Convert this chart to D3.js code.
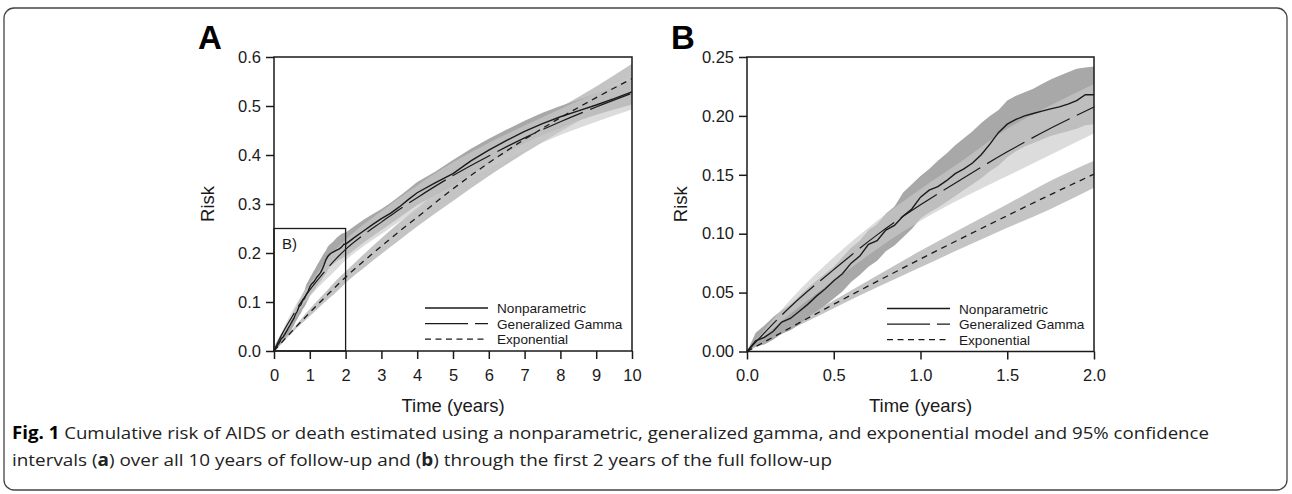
<!DOCTYPE html>
<html>
<head>
<meta charset="utf-8">
<script src="https://cdn.jsdelivr.net/npm/d3@7"></script>
<style>
body { margin: 0; background: #fff; }
svg { display: block; font-family: "Liberation Sans", Arial, sans-serif; }
</style>
</head>
<body>
<svg id="chart" width="1292" height="494"></svg>
<script>
// nonparametric estimate, fine time grid (years)
let npTime = [0, 0.05, 0.1, 0.15, 0.2, 0.25, 0.3, 0.35, 0.4, 0.45, 0.5, 0.55, 0.6, 0.65, 0.7, 0.75, 0.8, 0.85, 0.9, 0.95,
  1.0, 1.05, 1.1, 1.15, 1.2, 1.25, 1.3, 1.35, 1.4, 1.45, 1.5, 1.55, 1.6, 1.65, 1.7, 1.75, 1.8, 1.85, 1.9, 1.95,
  2.0, 2.25, 2.5, 2.75, 3.0, 3.25, 3.5, 3.75, 4.0, 4.5, 5.0, 5.5, 6.0, 6.5, 7.0, 7.5, 8.0, 8.5, 9.0, 9.5, 10.0]
let npRisk = [0, 0.009, 0.012, 0.017, 0.025, 0.028, 0.034, 0.040, 0.047, 0.053, 0.060, 0.066, 0.075, 0.081, 0.091, 0.094, 0.103, 0.107, 0.115, 0.121,
  0.131, 0.137, 0.140, 0.145, 0.151, 0.155, 0.160, 0.167, 0.176, 0.186, 0.193, 0.197, 0.200, 0.202, 0.204, 0.206, 0.2076, 0.210, 0.213, 0.218,
  0.218, 0.232, 0.245, 0.258, 0.270, 0.281, 0.294, 0.309, 0.323, 0.343, 0.362, 0.388, 0.410, 0.430, 0.448, 0.464, 0.478, 0.490, 0.502, 0.515, 0.529]
let npLow = [0, 0.004, 0.006, 0.010, 0.015, 0.018, 0.023, 0.029, 0.034, 0.039, 0.045, 0.051, 0.059, 0.065, 0.072, 0.077, 0.085, 0.090, 0.097, 0.104,
  0.113, 0.118, 0.122, 0.127, 0.132, 0.137, 0.142, 0.147, 0.153, 0.158, 0.165, 0.170, 0.174, 0.177, 0.180, 0.183, 0.185, 0.187, 0.189, 0.192,
  0.193, 0.207, 0.221, 0.234, 0.247, 0.259, 0.272, 0.285, 0.298, 0.318, 0.336, 0.360, 0.383, 0.405, 0.424, 0.441, 0.455, 0.470, 0.482, 0.493, 0.503]
let npHigh = [0, 0.016, 0.022, 0.029, 0.035, 0.040, 0.047, 0.054, 0.060, 0.066, 0.072, 0.080, 0.088, 0.094, 0.103, 0.108, 0.117, 0.123, 0.135, 0.142,
  0.149, 0.155, 0.162, 0.168, 0.175, 0.181, 0.187, 0.194, 0.200, 0.205, 0.213, 0.217, 0.220, 0.223, 0.227, 0.231, 0.234, 0.237, 0.240, 0.241,
  0.242, 0.255, 0.268, 0.279, 0.290, 0.302, 0.316, 0.330, 0.345, 0.366, 0.390, 0.413, 0.433, 0.452, 0.470, 0.486, 0.500, 0.513, 0.526, 0.540, 0.553]

// parametric models, coarse time grid
let modelTime = [0, 0.25, 0.5, 0.75, 1, 1.25, 1.5, 1.75, 2, 2.5, 3, 3.5, 4, 5, 6, 7, 8, 9, 10]
let gammaRisk = [0, 0.038, 0.0695, 0.099, 0.1245, 0.1475, 0.1695, 0.1895, 0.2075, 0.237, 0.263, 0.289, 0.313, 0.358, 0.398, 0.435, 0.468, 0.498, 0.526]
let gammaLow = [0, 0.032, 0.060, 0.087, 0.111, 0.131, 0.149, 0.167, 0.185, 0.214, 0.239, 0.264, 0.287, 0.333, 0.372, 0.409, 0.441, 0.468, 0.493]
let gammaHigh = [0, 0.044, 0.080, 0.111, 0.138, 0.163, 0.189, 0.209, 0.227, 0.258, 0.285, 0.312, 0.338, 0.385, 0.425, 0.460, 0.494, 0.527, 0.562]
let expRisk = [0, 0.0202, 0.0401, 0.0595, 0.0785, 0.0971, 0.1153, 0.1332, 0.1506, 0.183, 0.214, 0.244, 0.273, 0.331, 0.384, 0.432, 0.476, 0.517, 0.556]
let expLow = [0, 0.0186, 0.0368, 0.0545, 0.0715, 0.0885, 0.105, 0.121, 0.139, 0.169, 0.198, 0.226, 0.254, 0.306, 0.357, 0.404, 0.448, 0.490, 0.530]
let expHigh = [0, 0.0218, 0.0434, 0.0645, 0.0855, 0.1055, 0.125, 0.145, 0.162, 0.197, 0.230, 0.262, 0.292, 0.352, 0.404, 0.453, 0.497, 0.540, 0.586]

let legendLabels = ['Nonparametric', 'Generalized Gamma', 'Exponential']
let ticksA_x = [0, 1, 2, 3, 4, 5, 6, 7, 8, 9, 10]
let ticksA_y = [0, 0.1, 0.2, 0.3, 0.4, 0.5, 0.6]
let ticksB_x = [0, 0.5, 1, 1.5, 2]
let ticksB_y = [0, 0.05, 0.1, 0.15, 0.2, 0.25]

let svg = d3.select('#chart')
let ink = '#1a1a1a'

let npRows = npTime.map((t, i) => ({ t: t, v: npRisk[i], lo: npLow[i], hi: npHigh[i] }))
let gammaRows = modelTime.map((t, i) => ({ t: t, v: gammaRisk[i], lo: gammaLow[i], hi: gammaHigh[i] }))
let expRows = modelTime.map((t, i) => ({ t: t, v: expRisk[i], lo: expLow[i], hi: expHigh[i] }))

// outer figure frame
svg.append('rect')
  .attr('x', 4).attr('y', 8)
  .attr('width', 1283).attr('height', 482)
  .attr('rx', 10)
  .attr('fill', 'none')
  .attr('stroke', '#444')
  .attr('stroke-width', 1.3)

let drawPanel = (p) => {
  let x = d3.scaleLinear().domain(p.xDomain).range([p.left, p.right])
  let y = d3.scaleLinear().domain(p.yDomain).range([p.bottom, p.top])
  let tMax = p.xDomain[1]
  let g = svg.append('g')

  let inRange = (rows) => rows.filter(d => d.t <= tMax + 1e-9)
  let band = d3.area().x(d => x(d.t)).y0(d => y(d.lo)).y1(d => y(d.hi))
  let line = d3.line().x(d => x(d.t)).y(d => y(d.v))
  let smoothBand = d3.area().curve(d3.curveMonotoneX).x(d => x(d.t)).y0(d => y(d.lo)).y1(d => y(d.hi))
  let smoothLine = d3.line().curve(d3.curveMonotoneX).x(d => x(d.t)).y(d => y(d.v))

  // confidence bands
  g.append('path').attr('d', smoothBand(inRange(expRows))).attr('fill', '#c4c4c4')
  g.append('path').attr('d', band(inRange(npRows))).attr('fill', '#a8a8a8')
  g.append('path').attr('d', smoothBand(inRange(gammaRows))).attr('fill', '#cacaca').attr('fill-opacity', 0.65)

  // estimates
  g.append('path').attr('d', smoothLine(inRange(expRows)))
    .attr('fill', 'none').attr('stroke', ink).attr('stroke-width', 1.3).attr('stroke-dasharray', '6,5')
  g.append('path').attr('d', smoothLine(inRange(gammaRows)))
    .attr('fill', 'none').attr('stroke', ink).attr('stroke-width', 1.2).attr('stroke-dasharray', '43,8')
  g.append('path').attr('d', line(inRange(npRows)))
    .attr('fill', 'none').attr('stroke', ink).attr('stroke-width', 1.4)

  // inset marker for panel B region
  if (p.inset) {
    g.append('rect')
      .attr('x', x(0)).attr('y', y(p.inset[1]))
      .attr('width', x(p.inset[0]) - x(0)).attr('height', y(0) - y(p.inset[1]))
      .attr('fill', 'none').attr('stroke', ink).attr('stroke-width', 1.3)
    g.append('text')
      .attr('x', x(0.22)).attr('y', y(0.209))
      .attr('font-size', '15px').attr('fill', ink)
      .text('B)')
  }

  // plot box
  g.append('rect')
    .attr('x', p.left).attr('y', p.top)
    .attr('width', p.right - p.left).attr('height', p.bottom - p.top)
    .attr('fill', 'none').attr('stroke', ink).attr('stroke-width', 1.5)

  let xAxis = g.append('g')
    .attr('transform', `translate(0,${p.bottom})`)
    .call(d3.axisBottom(x).tickValues(p.xTicks).tickFormat(d3.format(p.xFmt)).tickSize(8).tickSizeOuter(0).tickPadding(10))
  let yAxis = g.append('g')
    .attr('transform', `translate(${p.left},0)`)
    .call(d3.axisLeft(y).tickValues(p.yTicks).tickFormat(d3.format(p.yFmt)).tickSize(8).tickSizeOuter(0).tickPadding(5))
  for (let ax of [xAxis, yAxis]) {
    ax.select('.domain').remove()
    ax.selectAll('line').attr('stroke', ink).attr('stroke-width', 1.5)
    ax.selectAll('text').attr('font-size', '16.5px').attr('fill', ink)
      .attr('font-family', '"Liberation Sans", Arial, sans-serif')
  }

  // axis titles
  g.append('text')
    .attr('x', (p.left + p.right) / 2).attr('y', 412)
    .attr('text-anchor', 'middle').attr('font-size', '18.5px').attr('fill', ink)
    .text('Time (years)')
  g.append('text')
    .attr('transform', `translate(${p.left - 60},${(p.top + p.bottom) / 2}) rotate(-90)`)
    .attr('text-anchor', 'middle').attr('font-size', '18.5px').attr('fill', ink)
    .text('Risk')

  // panel letter
  g.append('text')
    .attr('x', p.left - 76).attr('y', 49)
    .attr('font-size', '33px').attr('font-weight', 'bold').attr('fill', '#000')
    .text(p.letter)

  // legend
  let styles = [null, '43,7', '6,4.5']
  let lg = g.append('g').attr('transform', `translate(${p.right - 207},${p.bottom - 43})`)
  legendLabels.forEach((label, i) => {
    let row = lg.append('g').attr('transform', `translate(0,${i * 15.6})`)
    row.append('line')
      .attr('x1', 0).attr('x2', 63).attr('y1', 0).attr('y2', 0)
      .attr('stroke', ink).attr('stroke-width', 1.3)
      .attr('stroke-dasharray', styles[i])
    row.append('text')
      .attr('x', 72).attr('y', 5)
      .attr('font-size', '13.6px').attr('fill', ink)
      .text(label)
  })
}

drawPanel({
  letter: 'A', left: 274, right: 632, top: 57, bottom: 351,
  xDomain: [0, 10], yDomain: [0, 0.6], xTicks: ticksA_x, yTicks: ticksA_y,
  xFmt: 'd', yFmt: '.1f', inset: [2, 0.25]
})
drawPanel({
  letter: 'B', left: 747, right: 1094, top: 57, bottom: 351.5,
  xDomain: [0, 2], yDomain: [0, 0.25], xTicks: ticksB_x, yTicks: ticksB_y,
  xFmt: '.1f', yFmt: '.2f'
})

// caption
let cap = svg.append('g')
  .attr('font-family', '"Open Sans", "Noto Sans", sans-serif')
  .attr('font-size', '17px')
  .attr('fill', '#222')
let line1 = cap.append('text').attr('x', 12).attr('y', 439)
  .attr('textLength', 1197).attr('lengthAdjust', 'spacingAndGlyphs')
line1.append('tspan').attr('font-weight', 'bold').attr('fill', '#000').text('Fig. 1')
line1.append('tspan').text(' Cumulative risk of AIDS or death estimated using a nonparametric, generalized gamma, and exponential model and 95% confidence')
let line2 = cap.append('text').attr('x', 12).attr('y', 466)
  .attr('textLength', 820).attr('lengthAdjust', 'spacingAndGlyphs')
line2.append('tspan').text('intervals (')
line2.append('tspan').attr('font-weight', 'bold').text('a')
line2.append('tspan').text(') over all 10 years of follow-up and (')
line2.append('tspan').attr('font-weight', 'bold').text('b')
line2.append('tspan').text(') through the first 2 years of the full follow-up')
</script>
</body>
</html>
